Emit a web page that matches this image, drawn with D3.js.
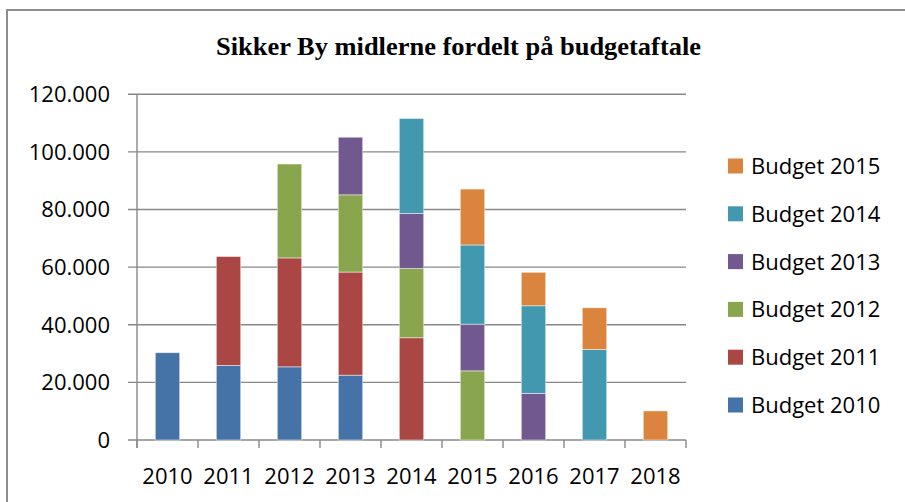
<!DOCTYPE html>
<html>
<head>
<meta charset="utf-8">
<script src="https://cdn.jsdelivr.net/npm/d3@7"></script>
<style>
  body { margin: 0; background: #fff; }
  text { font-family: "Open Sans", sans-serif; fill: #000; }
</style>
</head>
<body>
<div id="container"></div>
<script>
// data
const years = ["2010", "2011", "2012", "2013", "2014", "2015", "2016", "2017", "2018"];
const seriesNames = ["Budget 2010", "Budget 2011", "Budget 2012", "Budget 2013", "Budget 2014", "Budget 2015"];
const budget2010 = [30300, 25900, 25400, 22500, 0, 0, 0, 0, 0];
const budget2011 = [0, 37800, 37800, 35800, 35500, 0, 0, 0, 0];
const budget2012 = [0, 0, 32600, 26800, 24000, 24000, 0, 0, 0];
const budget2013 = [0, 0, 0, 20000, 19100, 16200, 16200, 0, 0];
const budget2014 = [0, 0, 0, 0, 33000, 27500, 30400, 31400, 0];
const budget2015 = [0, 0, 0, 0, 0, 19400, 11600, 14500, 10100];
const yTicks = [0, 20000, 40000, 60000, 80000, 100000, 120000];
const colors = ["#4572A7", "#AA4643", "#89A54E", "#71588F", "#4198AF", "#DB843D"];

const allSeries = [budget2010, budget2011, budget2012, budget2013, budget2014, budget2015];
const rows = years.map(function(y, i) {
  const r = { year: y };
  seriesNames.forEach(function(s, k) { r[s] = allSeries[k][i]; });
  return r;
});

const W = 905, H = 502;
const svg = d3.select("#container").append("svg")
  .attr("width", W).attr("height", H);

// outer chart frame (only top and left edges visible)
svg.append("path")
  .attr("d", "M7,502 L7,10 L905,10")
  .attr("fill", "none").attr("stroke", "#8c8c8c").attr("stroke-width", 2);

const plotLeft = 137, plotRight = 686, plotTop = 94.3, plotBottom = 440;

const x = d3.scaleBand().domain(years).range([plotLeft, plotRight])
  .paddingInner(0.6).paddingOuter(0.3);
const y = d3.scaleLinear().domain([0, 120000]).range([plotBottom, plotTop]);

// gridlines + y ticks
svg.append("g").selectAll("line")
  .data(yTicks)
  .enter().append("line")
  .attr("x1", plotLeft - 9).attr("x2", plotRight)
  .attr("y1", function(d) { return y(d); })
  .attr("y2", function(d) { return y(d); })
  .attr("stroke", "#888").attr("stroke-width", 1.4);

const fmt = function(d) { return d3.format(",")(d).replace(/,/g, "."); };
svg.append("g").selectAll("text")
  .data(yTicks)
  .enter().append("text")
  .attr("x", 110).attr("y", function(d) { return y(d); })
  .attr("dy", "0.36em")
  .attr("text-anchor", "end")
  .style("font-size", "22px")
  .text(fmt);

// stacked bars
const stack = d3.stack().keys(seriesNames);
const layers = stack(rows);

svg.append("g").selectAll("g")
  .data(layers)
  .enter().append("g")
  .attr("fill", function(d, i) { return colors[i]; })
  .selectAll("rect")
  .data(function(d) { return d.filter(function(p) { return p[1] - p[0] > 0; }); })
  .enter().append("rect")
  .attr("x", function(d) { return x(d.data.year); })
  .attr("width", x.bandwidth())
  .attr("y", function(d) { return y(d[1]); })
  .attr("height", function(d) { return y(d[0]) - y(d[1]); })
  .attr("stroke", "#ffffff").attr("stroke-opacity", 0.6).attr("stroke-width", 0.8);

// y axis line
svg.append("line")
  .attr("x1", plotLeft).attr("x2", plotLeft)
  .attr("y1", plotTop).attr("y2", plotBottom + 8)
  .attr("stroke", "#888").attr("stroke-width", 1.4);

// x axis ticks at category boundaries
const step = x.step();
const bounds = years.map(function(d) { return x(d) - (step - x.bandwidth()) / 2; }).concat([plotRight]);
svg.append("g").selectAll("line")
  .data(bounds)
  .enter().append("line")
  .attr("x1", function(d) { return d; }).attr("x2", function(d) { return d; })
  .attr("y1", plotBottom).attr("y2", plotBottom + 8)
  .attr("stroke", "#888").attr("stroke-width", 1.4);

svg.append("g").selectAll("text")
  .data(years)
  .enter().append("text")
  .attr("x", function(d) { return x(d) + x.bandwidth() / 2; })
  .attr("y", 484)
  .attr("text-anchor", "middle")
  .style("font-size", "22px")
  .text(function(d) { return d; });

// title
svg.append("text")
  .attr("x", 458.5).attr("y", 55)
  .attr("text-anchor", "middle")
  .attr("textLength", 485).attr("lengthAdjust", "spacingAndGlyphs")
  .style("font-family", "'Liberation Serif', 'Times New Roman', serif")
  .style("font-weight", "bold")
  .style("font-size", "26px")
  .text("Sikker By midlerne fordelt på budgetaftale");

// legend, reversed order (top = Budget 2015)
const legend = svg.append("g").selectAll("g")
  .data(seriesNames.slice().reverse())
  .enter().append("g")
  .attr("transform", function(d, i) { return "translate(728," + (166 + i * 47.8) + ")"; });

legend.append("rect")
  .attr("x", 0).attr("y", -7.5)
  .attr("width", 15).attr("height", 15)
  .attr("fill", function(d) { return colors[seriesNames.indexOf(d)]; });

legend.append("text")
  .attr("x", 23).attr("y", 8)
  .style("font-size", "22px")
  .text(function(d) { return d; });
</script>
</body>
</html>
